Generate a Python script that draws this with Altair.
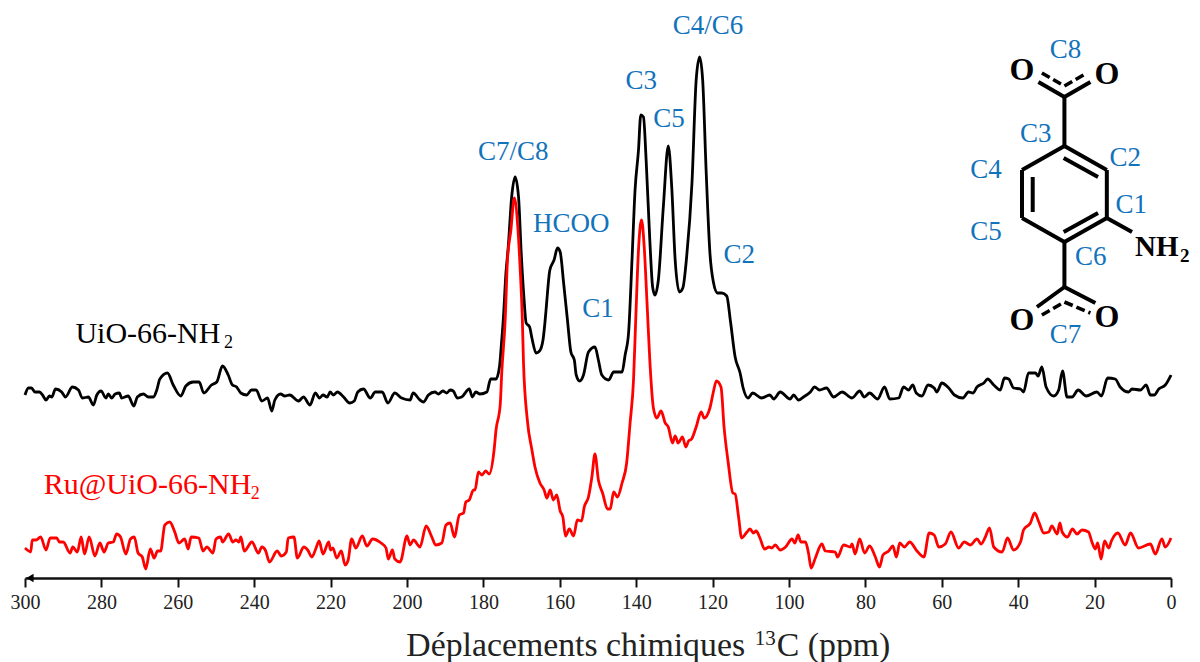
import altair as alt
import pandas as pd

black_ppm = [300,299.1,298.3,297.4,296.2,295.4,294.5,293.6,293,292,290.4,289.4,287.6,286,285,283.4,282.1,281.2,280.1,278.8,278.2,277.3,276.4,275.3,274.7,273,271.5,270.6,269,267.7,266.4,265.5,264.7,262.7,261.2,259.2,257.9,256,254.4,253.2,251.2,249.8,248.3,246.8,245.7,244.6,243.5,242,240.7,239.5,238,236.5,235.4,234.6,233.1,232,230.7,228.4,227.1,225.4,224,222.9,222,220.9,220.1,219.3,218.2,216.6,215,213.8,212.9,211.4,209.6,208.3,206.5,205,203.2,201.4,199.2,198.4,196.6,195.7,194.4,192.7,191.8,190.6,189.6,188.7,187.9,186.8,185.7,183.7,182.9,182,180.9,179.1,178.1,176.7,175.8,175.2,174.8,174.1,173.5,172.6,171.7,170.8,170.1,169.4,168.8,167.9,167.3,166.2,165.3,164.4,163.9,163.6,162.6,161.5,160.6,159.9,159,158,157.1,156.2,155.7,154.8,153.8,152.5,150.8,149.9,149,147.2,145.9,143.7,142.9,142,141.1,140.3,139.4,138.8,138.1,137.4,136.4,135.7,135.1,134.2,132.9,131.6,130.7,129.8,128.7,127.8,126.8,125.4,124.3,123.4,122.6,121.7,120.7,119.8,118.7,117.6,116.3,115.3,114.1,112.8,112,110.7,109.5,107.2,105,104,102.3,99.7,98.8,97.5,96.2,94.4,93.3,92,90.2,88.3,86.1,83.5,81.5,80.3,78.9,76.8,75,73.6,71.3,70,68.7,67.6,66.7,65.2,63.6,62,61.3,60,58.2,56.7,54.5,53,51.8,50.8,49,48,46.4,44.7,43.6,42.5,41.2,39.4,38.6,37.3,35.5,34.8,33.8,32.7,30.7,29.4,28.4,27.2,25.9,24.3,22.2,19.4,18.2,16.6,14.6,13.3,11.1,10.2,8,6.5,5.4,4.4,3.2,1.5,0]
black_h = [183,190,190,186,186,183,178,182,181,189,186,181,191,188,180,181,173,183,187,180,184,180,184,185,180,182,172,181,184,181,181,188,199,205,193,182,192,196,196,185,193,196,212,203,193,191,185,183,188,188,177,180,167,178,184,182,183,177,181,173,185,180,183,181,186,183,186,181,175,177,186,189,180,186,186,175,185,180,178,185,178,176,183,186,184,187,185,188,187,180,181,189,181,186,184,186,199,199,211,238,258,305,331,381,401,381,325,281,255,251,240,225,227,238,255,268,308,318,330,326,295,258,226,218,203,197,203,226,231,218,203,198,206,206,223,245,318,388,428,463,461,418,335,291,283,298,371,432,391,318,286,290,321,395,498,521,498,408,325,296,285,285,282,256,221,205,190,180,185,180,183,179,186,179,183,178,181,186,191,188,190,181,186,180,187,181,185,179,191,179,180,191,188,193,185,182,193,190,186,195,190,183,180,186,185,191,195,199,193,188,200,199,190,189,186,205,205,202,211,191,182,188,207,181,181,188,182,186,182,200,199,191,186,189,188,193,183,183,189,193,203]

red_ppm = [300,299.4,298.5,298.1,297.1,295.9,294.5,293.4,291.7,291,290,288.2,287.5,286.3,285.3,284.4,283.2,281.7,280.4,279.3,278.2,276.9,276,275,273.6,272.4,271.4,270.4,269.3,268.4,267.2,266.2,265.3,264.5,263.4,262.1,260.8,259.7,258.2,257.3,256.5,254.5,253.4,252.4,250.8,250,248.8,248.3,246.7,245.6,244.8,244,243.5,242.6,240.6,238.9,238,237.1,236,234,232.9,231.6,231.1,229.6,228.7,227,226,224.9,223.9,223,222,220.5,220,219.4,218.4,217.2,216.2,215.4,214.5,213.4,211.7,210.5,209,206.8,205.5,204.9,203.8,203.2,201.8,200,199.2,198.3,196.6,195,193.5,192.5,190.9,189.8,188.7,187.6,186.3,185.2,184.6,183.7,182.6,182.2,181.3,180.4,179.4,178.5,177.2,176.7,175.6,175.2,174.3,173.7,172.8,171.9,171,170.4,169.8,169.5,168.5,167.3,166.5,165.2,164.1,163.4,162.5,161.7,160.8,159.9,159.2,158.5,157.5,156.4,155.4,154.3,153.6,152.5,151.6,150.8,149.9,148.8,147.5,146.8,145.9,144.9,143.7,142.5,141.6,140.7,140.1,139.4,138.6,137.9,137.2,136.4,135.5,134.6,133.5,132.4,131.6,130.5,129.8,129,127.9,127,126.3,125.5,124.3,123,122.2,120.7,119.8,119,117.8,117,115.9,114.7,114.1,113.2,112.4,111,110.2,109.3,108.6,107.6,106.4,105.2,104.5,103.6,102.3,100.9,99.2,98.5,97.6,96.9,95.7,94.9,94.2,93.1,91.4,90.5,87.9,87.3,85.7,83.9,83.5,82.7,81.5,80.2,78.9,77.4,76.3,75.4,73.9,72.8,71.9,71,69.8,68.4,66.5,64.7,63.3,62,60.8,59.1,57.6,55.6,54.1,52.5,50.8,49.7,48.6,47.5,46.4,44.2,42.8,41.2,39.4,38.6,36.8,35.7,34.6,33.3,32,31.2,29.8,29.1,28.5,27.1,25.8,24.6,23.3,21.6,20.7,19.8,19.2,18.3,17.4,16.3,15.6,13.9,12,10.6,8.5,5.4,4.1,2.4,1.5,0]
red_h = [30,28,26,38,38,41,28,40,40,36,36,25,31,26,41,24,41,22,35,26,35,36,44,41,24,39,41,25,21,9,29,20,27,27,53,56,46,35,39,29,41,40,27,31,25,39,41,36,44,36,38,36,41,27,36,25,31,28,16,27,22,26,40,41,20,31,28,21,29,37,24,36,28,30,20,27,13,18,39,30,42,32,39,35,30,19,28,19,16,42,33,38,31,52,41,33,35,53,55,41,63,65,76,78,88,88,106,103,107,104,128,148,173,205,258,318,348,380,351,311,258,215,158,128,111,95,88,80,88,78,83,67,61,42,49,42,58,57,71,81,101,124,98,85,69,69,86,81,95,115,155,198,261,328,358,331,278,215,170,160,167,155,151,135,142,135,141,131,137,139,151,166,160,170,186,197,191,151,115,85,84,61,40,46,49,45,47,40,29,31,30,33,28,31,39,35,43,36,36,25,10,20,34,27,26,21,33,31,34,24,39,25,32,21,11,23,27,32,21,35,31,36,27,21,45,43,31,34,46,30,36,33,39,34,41,50,31,26,40,28,36,48,55,65,56,45,46,52,44,55,46,41,49,44,48,46,36,29,35,19,37,30,37,45,33,45,30,34,24,39,31,40]

tick_values = list(range(300, -1, -20))

peak_labels = ["C4/C6","C3","C5","C7/C8","HCOO","C1","C2","C8","C3","C2","C4","C1","C5","C6","C7"]
peak_ppm = [121.2,138.7,131.4,172.2,157,150,113,27.6,35.4,12,48.4,10.4,48.4,21,27.6]
peak_h = [552,497,459,426,354,269,323,528,444,420,408,373,346,321,243]

bond_x1 = [27.9,16.8,16.8,27.9,39,39,28.1,28.1,36.2,27.9,27.9,27.9,27.9,27.9,27.9,16.8]
bond_h1 = [432,408,360,336,360,408,420,346,401,432,481,481,336,291,291,360]
bond_x2 = [16.8,16.8,27.9,39,39,27.9,19.1,19.1,36.2,27.9,34.7,21.1,27.9,35.1,19.8,10.2]
bond_h2 = [408,360,336,360,408,432,401,365,366,481,496,496,291,271,275,346]

dash_x1 = [33.8,27.9,33.8,27.9]
dash_h1 = [505,492,263,276]
dash_x2 = [27.9,22,27.9,21.1]
dash_h2 = [492,505,276,265]

oxy_ppm = [39,16.8,39,16.8]
oxy_h = [508,504,258,261]

SERIF = "Liberation Serif"
BLUE = "#1273bb"
W, H = 1146, 570
xs = alt.Scale(domain=[300, 0], nice=False, zero=False)
ys = alt.Scale(domain=[0, 570], nice=False, zero=False)
X = alt.X("x:Q", scale=xs, title=None, axis=alt.Axis(
    values=tick_values, format="d", tickSize=9, tickWidth=2, tickColor="#111", domainColor="#111",
    domainWidth=2.5, grid=False, labelFont=SERIF, labelFontSize=20, labelColor="#222", labelPadding=5,
    labelOverlap=False, labelFlush=False))
Y = alt.Y("y:Q", scale=ys, axis=None)


def text_layer(label, ppm, h, color, size, align="center", weight="normal"):
    d = pd.DataFrame({"t": label, "x": ppm, "y": h})
    return alt.Chart(d).mark_text(font=SERIF, fontSize=size, color=color, align=align,
                                  baseline="middle", fontWeight=weight, clip=False).encode(
        x=X, y=Y, text="t:N")


black_df = pd.DataFrame({"x": black_ppm, "y": black_h})
red_df = pd.DataFrame({"x": red_ppm, "y": red_h})

black = alt.Chart(black_df).mark_line(color="#000", strokeWidth=2.8, interpolate="monotone").encode(x=X, y=Y)
red = alt.Chart(red_df).mark_line(color="#ff0000", strokeWidth=2.8, interpolate="monotone").encode(x=X, y=Y)

arrow = alt.Chart(pd.DataFrame({"x": [298.7], "y": [0]})).mark_point(
    shape="triangle-left", filled=True, color="#000", size=70, opacity=1).encode(x=X, y=Y)

bonds = alt.Chart(pd.DataFrame({"x": bond_x1, "y": bond_h1, "x2": bond_x2, "y2": bond_h2})).mark_rule(
    color="#000", strokeWidth=4).encode(x=X, y=Y, x2="x2:Q", y2="y2:Q")
dashes = alt.Chart(pd.DataFrame({"x": dash_x1, "y": dash_h1, "x2": dash_x2, "y2": dash_h2})).mark_rule(
    color="#000", strokeWidth=3.6, strokeDash=[9, 4]).encode(x=X, y=Y, x2="x2:Q", y2="y2:Q")

chart = alt.layer(
    black, red, arrow, bonds, dashes,
    text_layer(peak_labels, peak_ppm, peak_h, BLUE, 27),
    text_layer(["O"] * 4, oxy_ppm, oxy_h, "#000", 32, weight="bold"),
    text_layer(["NH"], [9.4], [331], "#000", 29, align="left", weight="bold"),
    text_layer(["2"], [-3.6], [322], "#000", 19, weight="bold"),
    text_layer(["UiO-66-NH"], [286.8], [244], "#000", 30, align="left"),
    text_layer(["2"], [246.7], [235], "#000", 18),
    text_layer(["Ru@UiO-66-NH"], [295.1], [93], "#ff0000", 30, align="left"),
    text_layer(["2"], [239.7], [84], "#ff0000", 18),
    text_layer(["Déplacements chimiques"], [200.2], [-68], "#222", 33.8, align="left"),
    text_layer(["13"], [106.2], [-61], "#222", 21),
    text_layer(["C (ppm)"], [103.2], [-68], "#222", 33.8, align="left"),
).properties(
    width=W, height=H,
    padding={"left": 17, "top": 0, "right": 21, "bottom": 84},
    autosize=alt.AutoSizeParams(type="none"),
    background="white",
).configure_view(stroke=None)

chart.save("out.html", embed_options={"renderer": "svg", "actions": False})
